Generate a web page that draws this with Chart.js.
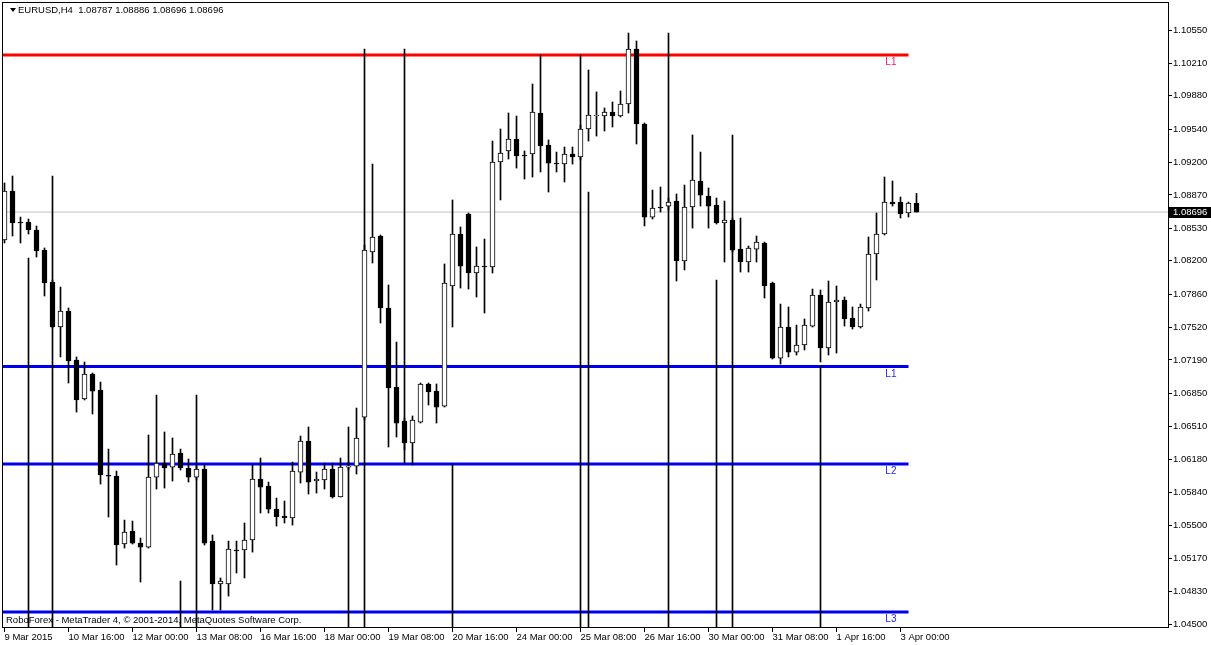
<!DOCTYPE html>
<html>
<head>
<meta charset="utf-8">
<title>EURUSD,H4</title>
<script src="https://cdn.jsdelivr.net/npm/chart.js@4.4.0/dist/chart.umd.min.js"></script>
<style>
  html, body { margin: 0; padding: 0; background: #fff; }
  #wrap { width: 1211px; height: 645px; }
</style>
</head>
<body>
<div id="wrap"><canvas id="chart" width="1211" height="645"></canvas></div>
<script>
// ---- data ----
const symbol = 'EURUSD,H4';
const footerText = 'RoboForex - MetaTrader 4, \u00a9 2001-2014, MetaQuotes Software Corp.';

const dateTickIdx = [0, 8, 16, 24, 32, 40, 48, 56, 64, 72, 80, 88, 96, 104, 112];
const dateLabels = ['9 Mar 2015', '10 Mar 16:00', '12 Mar 00:00', '13 Mar 08:00', '16 Mar 16:00',
  '18 Mar 00:00', '19 Mar 08:00', '20 Mar 16:00', '24 Mar 00:00', '25 Mar 08:00',
  '26 Mar 16:00', '30 Mar 00:00', '31 Mar 08:00', '1 Apr 16:00', '3 Apr 00:00'];

const priceTicks = [1.10550, 1.10210, 1.09880, 1.09540, 1.09200, 1.08870, 1.08530, 1.08200,
  1.07860, 1.07520, 1.07190, 1.06850, 1.06510, 1.06180, 1.05840, 1.05500, 1.05170, 1.04830, 1.04500];

const opens = [
  1.08411, 1.08910, 1.08594, 1.08594, 1.08513, 1.08309, 1.07983, 1.07525, 1.07688, 1.07189,
  1.06792, 1.07046, 1.06883, 1.06018, 1.06007, 1.05315, 1.05447, 1.05325, 1.05284, 1.05997,
  1.06140, 1.06099, 1.06242, 1.06089, 1.05997, 1.06079, 1.05345, 1.04908, 1.04908, 1.05254,
  1.05254, 1.05356, 1.05977, 1.05906, 1.05671, 1.05600, 1.05580, 1.06048, 1.06364, 1.05957,
  1.05967, 1.06079, 1.05794, 1.06099, 1.06109, 1.06608, 1.08289, 1.08452, 1.07719, 1.06914,
  1.06568, 1.06344, 1.06557, 1.06945, 1.06873, 1.06720, 1.07943, 1.08472, 1.08676, 1.08075,
  1.08146, 1.08136, 1.09206, 1.09318, 1.09440, 1.09277, 1.09287, 1.09705, 1.09379, 1.09195,
  1.09185, 1.09287, 1.09257, 1.09542, 1.09674, 1.09674, 1.09715, 1.09674, 1.09796, 1.10356,
  1.09593, 1.08645, 1.08747, 1.08757, 1.08808, 1.08197, 1.08747, 1.09012, 1.08859, 1.08768,
  1.08584, 1.08615, 1.08319, 1.08187, 1.08319, 1.08381, 1.07973, 1.07209, 1.07525, 1.07270,
  1.07342, 1.07535, 1.07851, 1.07311, 1.07780, 1.07800, 1.07617, 1.07525, 1.07719, 1.08269,
  1.08472, 1.08798, 1.08798, 1.08686, 1.08787];
const highs = [
  1.08992, 1.09063, 1.08645, 1.08625, 1.08554, 1.08330, 1.08004, 1.07932, 1.07719, 1.07220,
  1.07169, 1.07057, 1.06965, 1.06282, 1.06058, 1.05559, 1.05549, 1.05376, 1.06425, 1.06832,
  1.06456, 1.06395, 1.06282, 1.06181, 1.06109, 1.06120, 1.05407, 1.04969, 1.05345, 1.05345,
  1.05529, 1.06120, 1.06191, 1.05946, 1.05783, 1.05753, 1.06150, 1.06415, 1.06507, 1.06048,
  1.06140, 1.06140, 1.06191, 1.06150, 1.06700, 1.08360, 1.09185, 1.08462, 1.07953, 1.07372,
  1.06598, 1.06619, 1.06955, 1.06955, 1.06945, 1.08167, 1.08819, 1.08544, 1.08686, 1.08340,
  1.08421, 1.09419, 1.09542, 1.09705, 1.09674, 1.09318, 1.10000, 1.10295, 1.09430, 1.09307,
  1.09358, 1.09358, 1.09582, 1.10143, 1.09919, 1.09756, 1.09817, 1.09929, 1.10519, 1.10438,
  1.09603, 1.08920, 1.08951, 1.08839, 1.08880, 1.08971, 1.09481, 1.09307, 1.08941, 1.08839,
  1.08808, 1.08635, 1.08635, 1.08350, 1.08452, 1.08391, 1.07983, 1.07759, 1.07729, 1.07545,
  1.07607, 1.07912, 1.07902, 1.07994, 1.07943, 1.07831, 1.07729, 1.07759, 1.08442, 1.08686,
  1.09053, 1.09012, 1.08849, 1.08798, 1.08886];
const lows = [
  1.08381, 1.08452, 1.08381, 1.08472, 1.08238, 1.07841, 1.07515, 1.07220, 1.06955, 1.06659,
  1.06782, 1.06639, 1.05926, 1.05590, 1.05101, 1.05274, 1.05315, 1.04928, 1.05274, 1.05875,
  1.05885, 1.05957, 1.06069, 1.05946, 1.05967, 1.05305, 1.04643, 1.04643, 1.04785, 1.05020,
  1.04969, 1.05233, 1.05631, 1.05631, 1.05498, 1.05529, 1.05508, 1.05936, 1.05824, 1.05834,
  1.05875, 1.05783, 1.05794, 1.06069, 1.06028, 1.06578, 1.08177, 1.07566, 1.06303, 1.06405,
  1.06272, 1.06120, 1.06547, 1.06731, 1.06547, 1.06710, 1.07525, 1.07922, 1.07912, 1.07831,
  1.07668, 1.08075, 1.08819, 1.09236, 1.09144, 1.09032, 1.09053, 1.09104, 1.08900, 1.09104,
  1.09002, 1.09185, 1.09226, 1.09419, 1.09470, 1.09521, 1.09562, 1.09664, 1.09705, 1.09389,
  1.08554, 1.08625, 1.08696, 1.08717, 1.07994, 1.08106, 1.08533, 1.08757, 1.08533, 1.08574,
  1.08187, 1.08289, 1.08085, 1.08085, 1.08187, 1.07820, 1.07199, 1.07148, 1.07220, 1.07240,
  1.07291, 1.07525, 1.07169, 1.07240, 1.07260, 1.07535, 1.07505, 1.07515, 1.07688, 1.08004,
  1.08462, 1.08757, 1.08635, 1.08645, 1.08696];
const closes = [
  1.08910, 1.08584, 1.08584, 1.08513, 1.08299, 1.07973, 1.07525, 1.07688, 1.07179, 1.06782,
  1.07046, 1.06873, 1.06018, 1.06007, 1.05305, 1.05437, 1.05325, 1.05284, 1.05997, 1.06140,
  1.06089, 1.06232, 1.06089, 1.05997, 1.06079, 1.05325, 1.04908, 1.04938, 1.05264, 1.05244,
  1.05356, 1.05977, 1.05895, 1.05671, 1.05590, 1.05580, 1.06058, 1.06364, 1.05946, 1.05977,
  1.06079, 1.05794, 1.06099, 1.06109, 1.06395, 1.08309, 1.08442, 1.07719, 1.06904, 1.06547,
  1.06344, 1.06578, 1.06945, 1.06863, 1.06710, 1.07973, 1.08472, 1.08146, 1.08075, 1.08146,
  1.08136, 1.09206, 1.09297, 1.09440, 1.09267, 1.09267, 1.09715, 1.09369, 1.09195, 1.09185,
  1.09287, 1.09257, 1.09542, 1.09684, 1.09684, 1.09715, 1.09674, 1.09796, 1.10356, 1.09593,
  1.08645, 1.08737, 1.08737, 1.08798, 1.08197, 1.08747, 1.09022, 1.08869, 1.08757, 1.08584,
  1.08615, 1.08309, 1.08187, 1.08330, 1.08391, 1.07943, 1.07209, 1.07525, 1.07270, 1.07342,
  1.07545, 1.07851, 1.07311, 1.07780, 1.07800, 1.07607, 1.07525, 1.07729, 1.08269, 1.08472,
  1.08798, 1.08778, 1.08676, 1.08788, 1.08696];

// horizontal levels drawn on the chart
const levelPrices = [1.10295, 1.07123, 1.06130, 1.04622];
const levelNames = ['L1', 'L1', 'L2', 'L3'];
const levelEndIdx = 113;

// vertical marker lines (bar index, top price, bottom price)
const markIdx = [3, 6, 22, 24, 43, 45, 50, 56, 72, 73, 83, 89, 91, 102];
const markTop = [1.08228, 1.09063, 1.04938, 1.06832, 1.06507, 1.10356, 1.10356, 1.06130,
  1.10295, 1.08900, 1.10519, 1.08004, 1.09481, 1.07128];
const markBottom = [1.04470, 1.04470, 1.04470, 1.04470, 1.04470, 1.04470, 1.06140, 1.04470,
  1.04470, 1.04470, 1.04470, 1.04470, 1.04470, 1.04470];

const yMin = 1.04470;
const yMax = 1.10825;

// ---- styles ----
const FONT = '"Liberation Sans", Arial, sans-serif';
const levelLineColors = ['#ff0000', '#0000ee', '#0000ee', '#0000ee'];
const levelTextColors = ['#ff1464', '#2424ff', '#2424ff', '#2424ff'];

const last = closes.length - 1;
const bid = closes[last];

const idx = opens.map((_, i) => i);
const bodies = idx.map(i => ({ x: i, y: [opens[i], closes[i]] }));
const wicks = idx.map(i => ({ x: i, y: [lows[i], highs[i]] }));
const marks = markIdx.map((m, k) => ({ x: m, y: [markBottom[k], markTop[k]] }));

const levelSets = levelPrices.map((p, k) => ({
  type: 'line',
  data: [{ x: -1, y: p }, { x: levelEndIdx, y: p }],
  borderColor: levelLineColors[k],
  borderWidth: 3,
  pointRadius: 0,
  fill: false,
  order: 3
}));

const overlay = {
  id: 'overlay',
  afterDraw(chart) {
    const { ctx, chartArea: a, scales } = chart;
    const x = scales.x, y = scales.y;
    ctx.save();

    // frame
    ctx.strokeStyle = '#000';
    ctx.lineWidth = 1;
    ctx.strokeRect(a.left - 0.5, a.top - 0.5, a.right - a.left + 1, a.bottom - a.top + 1);

    // header
    ctx.fillStyle = '#000';
    ctx.beginPath();
    ctx.moveTo(10, 8); ctx.lineTo(16, 8); ctx.lineTo(13, 12); ctx.closePath();
    ctx.fill();
    ctx.font = '9.5px ' + FONT;
    ctx.textBaseline = 'middle';
    ctx.textAlign = 'left';
    const ohlc = [opens[last], highs[last], lows[last], closes[last]].map(v => v.toFixed(5)).join(' ');
    ctx.fillText(symbol + '  ' + ohlc, 18, 10);

    // footer
    ctx.fillText(footerText, 6, 620);

    // level labels
    ctx.font = '10px ' + FONT;
    ctx.textAlign = 'center';
    levelPrices.forEach((p, k) => {
      ctx.fillStyle = levelTextColors[k];
      ctx.fillText(levelNames[k], x.getPixelForValue(110.8), y.getPixelForValue(p) + 7.5);
    });

    // bid box on the price scale
    const py = Math.round(y.getPixelForValue(bid));
    ctx.fillStyle = '#000';
    ctx.fillRect(a.right + 1, py - 5, 43, 11);
    ctx.fillStyle = '#fff';
    ctx.font = '9.5px ' + FONT;
    ctx.textAlign = 'left';
    ctx.fillText(bid.toFixed(5), a.right + 5, py + 0.5);

    ctx.restore();
  }
};

Chart.defaults.font.family = FONT;
Chart.defaults.font.size = 9.5;
Chart.defaults.color = '#000';

new Chart(document.getElementById('chart'), {
  type: 'bar',
  data: {
    datasets: [
      {
        label: 'body',
        data: bodies,
        grouped: false,
        barThickness: 5,
        backgroundColor: c => (closes[c.dataIndex] >= opens[c.dataIndex] ? '#ffffff' : '#000000'),
        borderColor: '#000',
        borderWidth: 1,
        borderSkipped: false,
        order: 0
      },
      {
        label: 'wick',
        data: wicks,
        grouped: false,
        barThickness: 1,
        backgroundColor: '#000',
        borderWidth: 0,
        order: 1
      },
      {
        label: 'marks',
        data: marks,
        grouped: false,
        barThickness: 1,
        backgroundColor: '#000',
        borderWidth: 0,
        order: 2
      },
      ...levelSets,
      {
        type: 'line',
        label: 'bid',
        data: [{ x: -1, y: bid }, { x: 200, y: bid }],
        borderColor: '#c0c0c0',
        borderWidth: 1,
        pointRadius: 0,
        fill: false,
        order: 4
      }
    ]
  },
  options: {
    responsive: false,
    devicePixelRatio: 1,
    animation: false,
    events: [],
    layout: { padding: { left: 3, top: 3, right: 0, bottom: 0 } },
    plugins: { legend: { display: false }, tooltip: { enabled: false } },
    scales: {
      x: {
        type: 'linear',
        offset: false,
        min: -0.1875,
        max: 145.4375,
        grid: { display: true, offset: false, drawOnChartArea: false, drawTicks: true, tickLength: 5, tickColor: '#000' },
        border: { display: false },
        ticks: {
          autoSkip: false,
          maxRotation: 0,
          align: 'start',
          padding: 0,
          callback: v => dateLabels[dateTickIdx.indexOf(v)]
        },
        afterBuildTicks: s => { s.ticks = dateTickIdx.map(v => ({ value: v })); },
        afterFit: s => {
          s.height = 18;
          s.paddingLeft = 0; s.paddingRight = 0; s.paddingTop = 0; s.paddingBottom = 0;
        }
      },
      y: {
        type: 'linear',
        position: 'right',
        min: yMin,
        max: yMax,
        grid: { display: true, drawOnChartArea: false, drawTicks: true, tickLength: 4, tickColor: '#000' },
        border: { display: false },
        ticks: {
          autoSkip: false,
          padding: 1,
          callback: v => v.toFixed(5)
        },
        afterBuildTicks: s => { s.ticks = priceTicks.map(v => ({ value: v })); },
        afterFit: s => {
          s.width = 43;
          s.paddingLeft = 0; s.paddingRight = 0; s.paddingTop = 0; s.paddingBottom = 0;
        }
      }
    }
  },
  plugins: [overlay]
});
</script>
</body>
</html>
